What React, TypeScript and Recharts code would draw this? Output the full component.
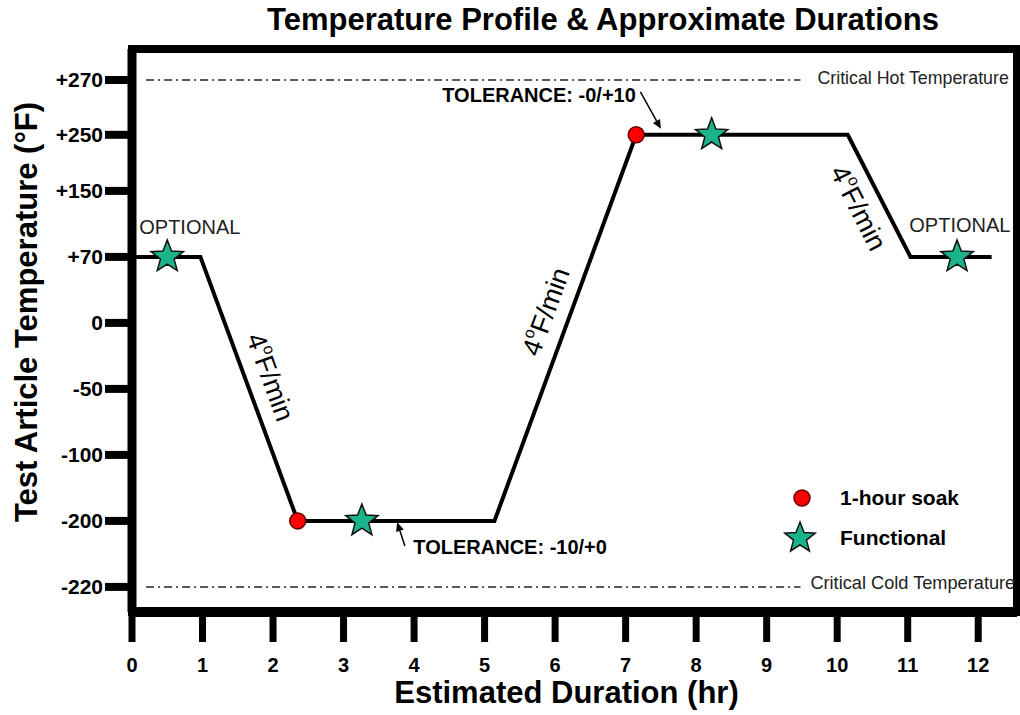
import React from "react";
import {
  ComposedChart,
  Line,
  Scatter,
  XAxis,
  YAxis,
  ReferenceLine,
  ReferenceDot,
  ReferenceArea,
  Legend,
} from "recharts";

const FONT = '"Liberation Sans", Arial, Helvetica, sans-serif';
const TEAL = "#1db38a";
const RED = "#ff0000";

// x axis is plain hours; the temperature axis is not linear (labels sit at equal-ish steps)
const hourTicks = [0, 1, 2, 3, 4, 5, 6, 7, 8, 9, 10, 11, 12];
const tempTicks = [-220, -200, -100, -50, 0, 70, 150, 250, 270];
const tempTickLabels = ["-220", "-200", "-100", "-50", "0", "+70", "+150", "+250", "+270"];
const tempSlots = [0, 1, 2, 3, 4, 5, 6, 6.85, 7.68];

const profileHours = [0, 0.97, 2.35, 5.14, 7.15, 10.15, 11.04, 12.19];
const profileTemps = [70, 70, -200, -200, 250, 250, 70, 70];

const soakHours = [2.35, 7.15];
const soakTemps = [-200, 250];

const functionalHours = [0.5, 3.26, 8.22, 11.7];
const functionalTemps = [70, -200, 250, 70];

const criticalHot = 270;
const criticalCold = -220;
const criticalFrom = 0.2;
const criticalTo = 9.48;

const legendItems = [
  { label: "1-hour soak", kind: "soak" },
  { label: "Functional", kind: "functional" },
];

const X_MAX = 12.55;
const Y_MIN = -0.38;
const Y_MAX = 8.15;

function slotOf(temp: number) {
  return tempSlots[tempTicks.indexOf(temp)];
}

const slotKey = (d: any) => slotOf(d.temp);

const profile = profileHours.map((t, i) => ({ t, temp: profileTemps[i] }));
const soaks = soakHours.map((t, i) => ({ t, temp: soakTemps[i] }));
const functionals = functionalHours.map((t, i) => ({ t, temp: functionalTemps[i] }));

// annotation placement (hours, axis slot)
const slopeNotes = [
  { t: 1.96, slot: 3.18, angle: 70 },
  { t: 5.87, slot: 4.17, angle: -70 },
  { t: 10.3, slot: 5.74, angle: 63 },
];

const textNotes = [
  { t: 0.82, slot: 5.45, text: "OPTIONAL", anchor: "middle", size: 20, weight: 400, dy: 0 },
  { t: 11.74, slot: 5.48, text: "OPTIONAL", anchor: "middle", size: 20, weight: 400, dy: 0 },
  { t: 4.4, slot: 7.45, text: "TOLERANCE: -0/+10", anchor: "start", size: 20, weight: 700, dy: 0 },
  { t: 3.99, slot: 0.6, text: "TOLERANCE: -10/+0", anchor: "start", size: 20, weight: 700, dy: 0 },
  { t: 9.72, slot: slotOf(criticalHot), text: "Critical Hot Temperature", anchor: "start", size: 17.8, weight: 400, dy: -2 },
  { t: 9.62, slot: slotOf(criticalCold), text: "Critical Cold Temperature", anchor: "start", size: 18.2, weight: 400, dy: -4 },
];

const arrowNotes = [
  { from: { x: 7.21, y: 7.5 }, to: { x: 7.5, y: 6.94 } },
  { from: { x: 3.87, y: 0.62 }, to: { x: 3.76, y: 0.98 } },
];

function starPoints(cx: number, cy: number, R: number, r: number) {
  const pts: string[] = [];
  for (let i = 0; i < 10; i++) {
    const a = ((-90 + i * 36) * Math.PI) / 180;
    const rad = i % 2 === 0 ? R : r;
    pts.push(`${cx + rad * Math.cos(a)},${cy + rad * Math.sin(a)}`);
  }
  return pts.join(" ");
}

const renderStar = (p: any) => (
  <polygon
    points={starPoints(p.cx, p.cy, 17, 7.2)}
    fill={TEAL}
    stroke="#111"
    strokeWidth={1.5}
  />
);

const renderSoak = (p: any) => (
  <circle cx={p.cx} cy={p.cy} r={8} fill={RED} stroke="#600" strokeWidth={1.5} />
);

const renderSlope = (angle: number) => (p: any) => (
  <text
    x={p.cx}
    y={p.cy}
    transform={`rotate(${angle} ${p.cx} ${p.cy})`}
    textAnchor="middle"
    dominantBaseline="central"
    fontFamily={FONT}
    fontSize={27}
    fill="#000"
  >
    4
    <tspan fontSize={16} dy={-9}>
      o
    </tspan>
    <tspan dy={9}>F/min</tspan>
  </text>
);

const renderNote = (n: any) => (p: any) => (
  <text
    x={p.cx}
    y={p.cy}
    dy={n.dy}
    textAnchor={n.anchor}
    dominantBaseline="central"
    fontFamily={FONT}
    fontSize={n.size}
    fontWeight={n.weight}
    fill={n.weight === 700 ? "#000" : "#222"}
  >
    {n.text}
  </text>
);

const renderArrow = (p: any) => {
  const { x1, y1, x2, y2 } = p;
  const a = Math.atan2(y2 - y1, x2 - x1);
  const len = 9;
  const w = 4;
  const bx = x2 - len * Math.cos(a);
  const by = y2 - len * Math.sin(a);
  const nx = -Math.sin(a) * w;
  const ny = Math.cos(a) * w;
  return (
    <g>
      <line x1={x1} y1={y1} x2={bx} y2={by} stroke="#000" strokeWidth={1.5} />
      <polygon points={`${x2},${y2} ${bx + nx},${by + ny} ${bx - nx},${by - ny}`} fill="#000" />
    </g>
  );
};

const renderXTitle = (props: any) => {
  const vb = props && props.viewBox;
  const x = vb ? vb.x + vb.width / 2 - 8 : 566;
  const y = vb ? vb.y + 91 : 703;
  return (
    <text x={x} y={y} textAnchor="middle" fontFamily={FONT} fontSize={31} fontWeight={700} fill="#000">
      Estimated Duration (hr)
    </text>
  );
};

const renderYTitle = (props: any) => {
  const vb = props && props.viewBox;
  const x = vb ? vb.x + 37 : 37;
  const y = vb ? vb.y + 263 : 312;
  return (
    <text
      x={x}
      y={y}
      transform={`rotate(-90 ${x} ${y})`}
      textAnchor="middle"
      fontFamily={FONT}
      fontSize={31}
      fontWeight={700}
      fill="#000"
    >
      Test Article Temperature (°F)
    </text>
  );
};

const renderLegend = () => (
  <div style={{ fontFamily: FONT, fontWeight: 700, fontSize: 21, color: "#000" }}>
    {legendItems.map((item) => (
      <div key={item.label} style={{ display: "flex", alignItems: "center", height: 40 }}>
        <svg width={40} height={40}>
          {item.kind === "soak" ? (
            <circle cx={22} cy={20} r={8} fill={RED} stroke="#600" strokeWidth={1.5} />
          ) : (
            <polygon points={starPoints(20, 20, 16, 6.8)} fill={TEAL} stroke="#111" strokeWidth={1.5} />
          )}
        </svg>
        <span style={{ marginLeft: 20, lineHeight: "40px" }}>{item.label}</span>
      </div>
    ))}
  </div>
);

const xTickStyle = { fill: "#000", fontSize: 20, fontWeight: 700, fontFamily: FONT };
const yTickStyle = { fill: "#000", fontSize: 21, fontWeight: 700, fontFamily: FONT };

export default function App() {
  return (
    <div style={{ position: "absolute", left: 0, top: 0, width: 1020, height: 715, background: "#fff" }}>
      <ComposedChart
        width={1020}
        height={715}
        data={profile}
        margin={{ top: 49, right: 3, bottom: 0, left: 0 }}
      >
        <ReferenceArea
          x1={0}
          x2={X_MAX}
          y1={Y_MIN}
          y2={Y_MAX}
          fill="none"
          stroke="#000"
          strokeWidth={8}
          ifOverflow="visible"
        />
        <XAxis
          dataKey="t"
          type="number"
          domain={[0, X_MAX]}
          allowDataOverflow
          ticks={hourTicks}
          interval={0}
          height={103}
          tickSize={30}
          tickMargin={16}
          axisLine={{ stroke: "#000", strokeWidth: 10 }}
          tickLine={{ stroke: "#000", strokeWidth: 7 }}
          tick={xTickStyle}
          label={renderXTitle}
        />
        <YAxis
          type="number"
          domain={[Y_MIN, Y_MAX]}
          allowDataOverflow
          ticks={tempSlots}
          interval={0}
          width={132}
          tickSize={27}
          tickMargin={2}
          tickFormatter={(v: number) => {
            const i = tempSlots.findIndex((s) => Math.abs(s - v) < 1e-6);
            return i >= 0 ? tempTickLabels[i] : "";
          }}
          axisLine={{ stroke: "#000", strokeWidth: 9 }}
          tickLine={{ stroke: "#000", strokeWidth: 8 }}
          tick={yTickStyle}
          label={renderYTitle}
        />
        <ReferenceLine
          segment={[
            { x: criticalFrom, y: slotOf(criticalHot) },
            { x: criticalTo, y: slotOf(criticalHot) },
          ]}
          stroke="#222"
          strokeWidth={1.5}
          strokeDasharray="8 4 2 4"
        />
        <ReferenceLine
          segment={[
            { x: criticalFrom, y: slotOf(criticalCold) },
            { x: criticalTo, y: slotOf(criticalCold) },
          ]}
          stroke="#222"
          strokeWidth={1.5}
          strokeDasharray="8 4 2 4"
        />
        {arrowNotes.map((a, i) => (
          <ReferenceLine key={`arrow-${i}`} segment={[a.from, a.to]} shape={renderArrow} />
        ))}
        <Line
          type="linear"
          dataKey={slotKey}
          stroke="#000"
          strokeWidth={4}
          dot={false}
          activeDot={false}
          isAnimationActive={false}
        />
        <Scatter data={soaks} dataKey={slotKey} shape={renderSoak} isAnimationActive={false} />
        <Scatter data={functionals} dataKey={slotKey} shape={renderStar} isAnimationActive={false} />
        {slopeNotes.map((n, i) => (
          <ReferenceDot key={`slope-${i}`} x={n.t} y={n.slot} r={0} shape={renderSlope(n.angle)} />
        ))}
        {textNotes.map((n, i) => (
          <ReferenceDot key={`note-${i}`} x={n.t} y={n.slot} r={0} shape={renderNote(n)} />
        ))}
        <Legend
          layout="vertical"
          align="center"
          verticalAlign="middle"
          content={renderLegend}
          wrapperStyle={{ left: 780, top: 478, width: 240 }}
        />
      </ComposedChart>
      <div
        style={{
          position: "absolute",
          top: 4,
          left: 0,
          width: 1020,
          paddingLeft: 186,
          boxSizing: "border-box",
          textAlign: "center",
          fontFamily: FONT,
          fontWeight: 700,
          fontSize: 31,
          lineHeight: "31px",
          whiteSpace: "nowrap",
        }}
      >
        Temperature Profile &amp; Approximate Durations
      </div>
    </div>
  );
}
